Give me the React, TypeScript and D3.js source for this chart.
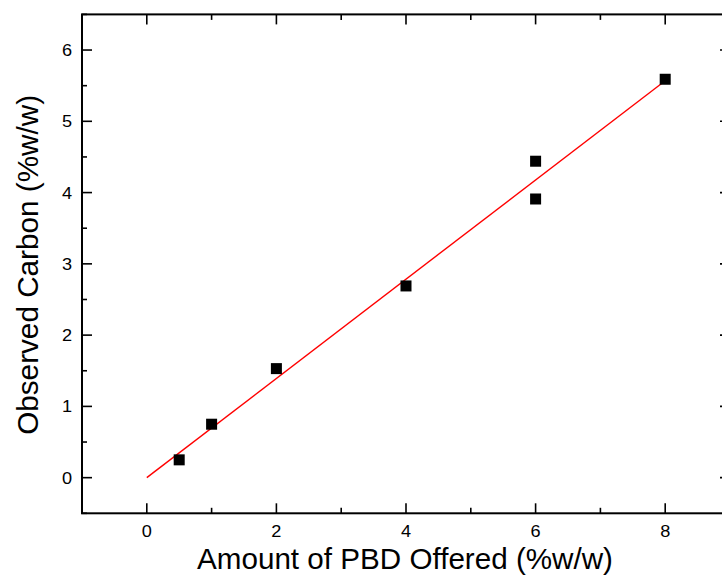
import React from "react";
import * as d3 from "d3";

const offered = [0.5, 1, 2, 4, 6, 6, 8];
const observed = [0.25, 0.75, 1.53, 2.69, 4.44, 3.91, 5.59];
const fitX = [0, 8];
const fitY = [0, 5.57];
const xTicks = [0, 2, 4, 6, 8];
const xMinor = [-1, 1, 3, 5, 7, 9];
const yTicks = [0, 1, 2, 3, 4, 5, 6];
const yMinor = [-0.5, 0.5, 1.5, 2.5, 3.5, 4.5, 5.5, 6.5];

const W = 722;
const H = 575;
const L = 82, R = 730, T = 14.4, B = 513.3;

export default function App() {
  const x = d3.scaleLinear().domain([-1, 9]).range([L, R]);
  const y = d3.scaleLinear().domain([-0.5, 6.5]).range([B, T]);
  const line = d3
    .line<number>()
    .x((_, i) => x(fitX[i]))
    .y((_, i) => y(fitY[i]));
  const font = "Arial, 'Liberation Sans', Helvetica, sans-serif";
  const ms = 11;
  const tickFs = 16.5;
  return (
    <svg
      width={W}
      height={H}
      style={{ position: "absolute", left: 0, top: 0, background: "#fff" }}
      fontFamily={font}
    >
      <rect x={0} y={0} width={W} height={H} fill="#fff" />
      {/* fit line */}
      <path d={line(fitX) || ""} stroke="#ff0000" strokeWidth={1.4} fill="none" />
      {/* markers */}
      {offered.map((v, i) => (
        <rect
          key={i}
          x={x(v) - ms / 2}
          y={y(observed[i]) - ms / 2}
          width={ms}
          height={ms}
          fill="#000"
        />
      ))}
      {/* frame */}
      <rect x={L} y={T} width={R - L} height={B - T} fill="none" stroke="#000" strokeWidth={2} />
      {/* x ticks bottom & top */}
      {xTicks.map((t) => (
        <g key={"xt" + t}>
          <line x1={x(t)} x2={x(t)} y1={B} y2={B - 10} stroke="#000" strokeWidth={1.6} />
          <line x1={x(t)} x2={x(t)} y1={T} y2={T + 10} stroke="#000" strokeWidth={1.6} />
          <text
            transform={`translate(${x(t)},537) scale(1.1,1)`}
            textAnchor="middle"
            fontSize={tickFs}
            fill="#000"
          >
            {t}
          </text>
        </g>
      ))}
      {xMinor.map((t) => (
        <g key={"xm" + t}>
          <line x1={x(t)} x2={x(t)} y1={B} y2={B - 5.5} stroke="#000" strokeWidth={1.6} />
          <line x1={x(t)} x2={x(t)} y1={T} y2={T + 5.5} stroke="#000" strokeWidth={1.6} />
        </g>
      ))}
      {/* y ticks left & right */}
      {yTicks.map((t) => (
        <g key={"yt" + t}>
          <line x1={L} x2={L + 10} y1={y(t)} y2={y(t)} stroke="#000" strokeWidth={1.6} />
          <line x1={R} x2={R - 10} y1={y(t)} y2={y(t)} stroke="#000" strokeWidth={1.6} />
          <text
            transform={`translate(72,${y(t) + 6}) scale(1.1,1)`}
            textAnchor="end"
            fontSize={tickFs}
            fill="#000"
          >
            {t}
          </text>
        </g>
      ))}
      {yMinor.map((t) => (
        <g key={"ym" + t}>
          <line x1={L} x2={L + 5} y1={y(t)} y2={y(t)} stroke="#000" strokeWidth={1.6} />
          <line x1={R} x2={R - 5} y1={y(t)} y2={y(t)} stroke="#000" strokeWidth={1.6} />
        </g>
      ))}
      {/* axis titles */}
      <text
        x={405}
        y={569}
        textAnchor="middle"
        fontSize={29.5}
        fill="#000"
        textLength={416}
        lengthAdjust="spacingAndGlyphs"
      >
        Amount of PBD Offered (%w/w)
      </text>
      <text
        transform={`translate(37.5,${(T + B) / 2 + 1}) rotate(-90)`}
        textAnchor="middle"
        fontSize={29.5}
        fill="#000"
        textLength={340}
        lengthAdjust="spacingAndGlyphs"
      >
        Observed Carbon (%w/w)
      </text>
    </svg>
  );
}
